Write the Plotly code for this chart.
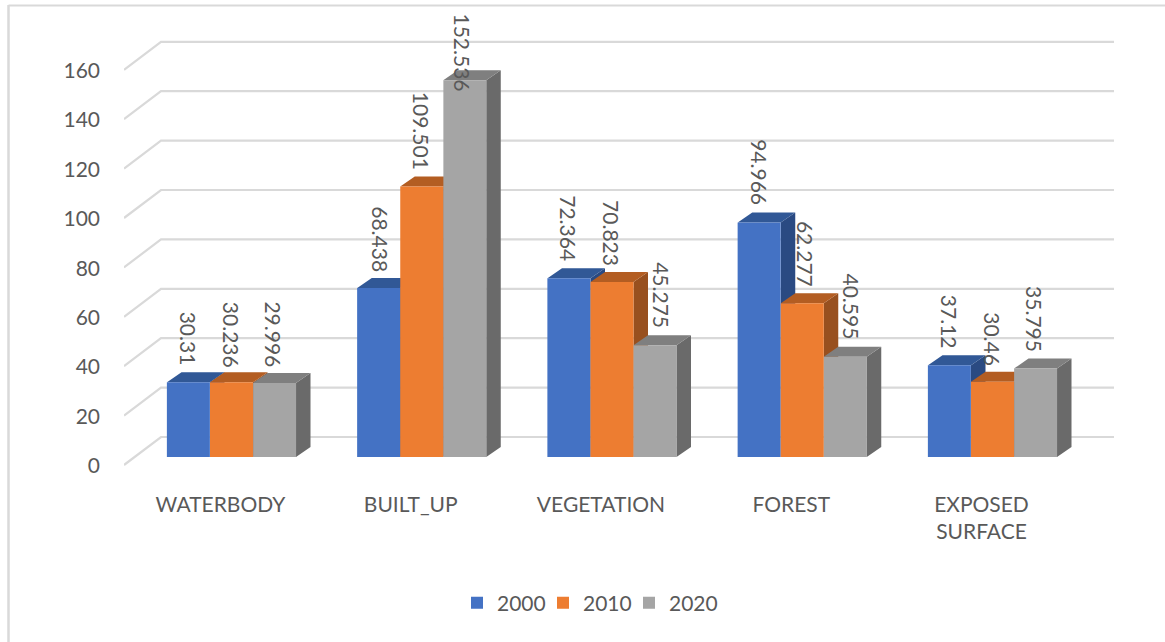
import plotly.graph_objects as go

categories = ["WATERBODY", "BUILT_UP", "VEGETATION", "FOREST", "EXPOSED<br>SURFACE"]
series_names = ["2000", "2010", "2020"]
values_2000 = [30.31, 68.438, 72.364, 94.966, 37.12]
values_2010 = [30.236, 109.501, 70.823, 62.277, 30.46]
values_2020 = [29.996, 152.536, 45.275, 40.595, 35.795]
y_ticks = [0, 20, 40, 60, 80, 100, 120, 140, 160]

front_colors = ["#4472C4", "#ED7D31", "#A5A5A5"]
top_colors = ["#315896", "#B35D22", "#7F7F7F"]
side_colors = ["#2A4A82", "#98501F", "#6A6A6A"]
legend_widths = [41, 41, 60]
GRID = "#D9D9D9"
TEXT = "#595959"
FONT = "Lato"
FS = 21

# layout scale (pixels)
W, H = 1165, 642
L, R, T, B = 124, 1114, 10, 480
PX_PER_CAT = 190.25
PX_PER_UNIT = 2.47
X0_PX = 220.5      # centre of first category label
Y0_PX = 457        # bar floor


def to_x(px):
    return (px - X0_PX) / PX_PER_CAT


def to_y(py):
    return (Y0_PX - py) / PX_PER_UNIT


BAR_W = 43 / PX_PER_CAT
BAR_SHIFT = 11 / PX_PER_CAT
DX, DY = 14.5 / PX_PER_CAT, 10 / PX_PER_UNIT
TICK_SHIFT = 3.6

# per-label nudges in pixels (label centre against top of bar)
label_up = [[44, 49, 50, 50, 44], [48, 56, 49, 49, 43], [49, 28, 50, 50, 50]]
label_right = [[0, 1, 0, 0, 0], [0, 0, 0, 4, 0], [-1, -2, 7, 6, -1]]

all_values = [values_2000, values_2010, values_2020]
fig = go.Figure()

# back wall: gridlines with their diagonal on the left wall
gx, gy = [], []
for v in y_ticks:
    gx += [to_x(124), to_x(161), to_x(1114), None]
    gy += [to_y(465 - PX_PER_UNIT * v), to_y(437 - PX_PER_UNIT * v), to_y(437 - PX_PER_UNIT * v), None]
fig.add_trace(go.Scatter(x=gx, y=gy, mode="lines", line=dict(color=GRID, width=2.2),
                         hoverinfo="skip", showlegend=False, cliponaxis=False))

# depth faces, drawn series by series under the front faces
for s, vals in enumerate(all_values):
    offs = (s - 1) * BAR_W
    sx, sy, tx, ty = [], [], [], []
    for i, v in enumerate(vals):
        xl = i + BAR_SHIFT + offs - BAR_W / 2
        xr = xl + BAR_W
        sx += [xr, xr + DX, xr + DX, xr, xr, None]
        sy += [0, DY, v + DY, v, 0, None]
        tx += [xl, xr, xr + DX, xl + DX, xl, None]
        ty += [v, v, v + DY, v + DY, v, None]
    fig.add_trace(go.Scatter(x=sx, y=sy, mode="lines", fill="toself", fillcolor=side_colors[s],
                             line=dict(width=0, color=side_colors[s]), hoverinfo="skip", showlegend=False))
    fig.add_trace(go.Scatter(x=tx, y=ty, mode="lines", fill="toself", fillcolor=top_colors[s],
                             line=dict(width=0, color=top_colors[s]), hoverinfo="skip", showlegend=False))

# front faces
for s, vals in enumerate(all_values):
    fig.add_trace(go.Bar(x=[i + BAR_SHIFT for i in range(len(categories))], y=vals, name=series_names[s],
                         marker=dict(color=front_colors[s], line=dict(width=0)), yaxis="y2", width=BAR_W,
                         legendwidth=legend_widths[s]))

# data labels
annotations = []
for s, vals in enumerate(all_values):
    offs = (s - 1) * BAR_W
    for i, v in enumerate(vals):
        annotations.append(dict(x=i + BAR_SHIFT + offs, y=v, xref="x", yref="y2", text=str(v), showarrow=False,
                                textangle=90, xanchor="center", yanchor="middle",
                                xshift=label_right[s][i], yshift=label_up[s][i],
                                font=dict(family=FONT, size=FS, color=TEXT)))

y_range = [to_y(B), to_y(T)]
fig.update_layout(
    width=W, height=H, autosize=False,
    margin=dict(l=L, r=W - R, t=T, b=H - B, pad=0),
    paper_bgcolor="white", plot_bgcolor="white",
    font=dict(family=FONT, size=FS, color=TEXT),
    barmode="group", bargap=0.32, bargroupgap=0,
    annotations=annotations,
    showlegend=True,
    legend=dict(orientation="h", x=(457 - L) / (R - L), xanchor="left", y=(B - 603) / (B - T), yanchor="middle",
                font=dict(family=FONT, size=FS, color=TEXT),
                bgcolor="rgba(0,0,0,0)", traceorder="normal"),
    xaxis=dict(range=[to_x(L), to_x(R)], tickmode="array", tickvals=list(range(len(categories))),
               ticktext=categories, showgrid=False, zeroline=False, showline=False, ticks="",
               ticklabelstandoff=10, tickangle=0, tickfont=dict(family=FONT, size=FS, color=TEXT)),
    yaxis=dict(range=y_range, tickmode="array", tickvals=[v - TICK_SHIFT for v in y_ticks],
               ticktext=[str(v) for v in y_ticks], showgrid=False, zeroline=False, showline=False, ticks="",
               ticklabelstandoff=23, tickfont=dict(family=FONT, size=FS, color=TEXT)),
    yaxis2=dict(range=y_range, overlaying="y", visible=False),
    shapes=[
        dict(type="line", xref="paper", yref="paper", x0=(8.5 - L) / (R - L), x1=(8.5 - L) / (R - L),
             y0=(B - 5) / (B - T), y1=(B - H) / (B - T), line=dict(color=GRID, width=2.5)),
        dict(type="line", xref="paper", yref="paper", x0=(8.5 - L) / (R - L), x1=(W - L) / (R - L),
             y0=(B - 5.5) / (B - T), y1=(B - 5.5) / (B - T), line=dict(color=GRID, width=2)),
    ],
)
fig.write_html("out.html", post_script="document.body.style.margin='0';", config=dict(displayModeBar=False))
